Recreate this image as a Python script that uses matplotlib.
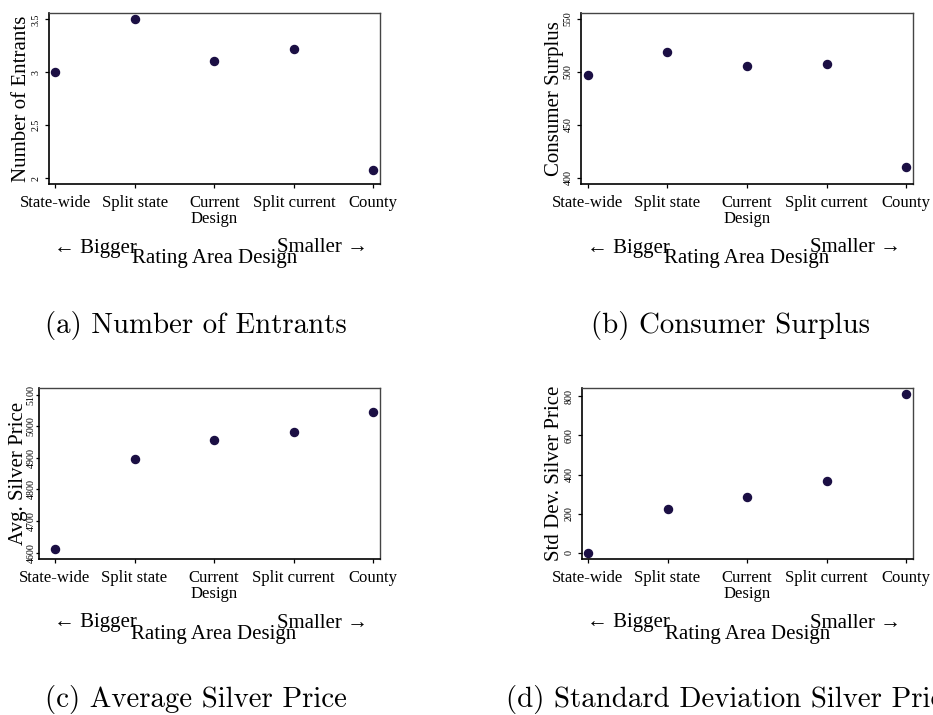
import matplotlib
matplotlib.use("Agg")
import matplotlib.pyplot as plt
from matplotlib.transforms import offset_copy

plt.rcParams["font.family"] = ["Liberation Serif", "DejaVu Serif"]

# Rating-area designs, from largest to smallest areas
designs = ["State-wide", "Split state", "Current\nDesign", "Split current", "County"]
positions = [1, 2, 3, 4, 5]

entrants = [3.00, 3.50, 3.11, 3.22, 2.08]
consumer_surplus = [497.5, 518.7, 505.4, 507.6, 410.0]
avg_silver_price = [4612, 4896, 4958, 4983, 5045]
sd_silver_price = [0, 226, 287, 366, 810]

ticks_a = [2, 2.5, 3, 3.5]
ticks_b = [400, 450, 500, 550]
ticks_c = [4600, 4700, 4800, 4900, 5000, 5100]
ticks_d = [0, 200, 400, 600, 800]

captions = ["(a) Number of Entrants", "(b) Consumer Surplus",
            "(c) Average Silver Price", "(d) Standard Deviation Silver Price"]

W, H = 933, 715
fig = plt.figure(figsize=(W / 100, H / 100), dpi=100)

MARKER = "#1b0f44"


def px_axes(left, top, right, bottom):
    return fig.add_axes([left / W, 1 - bottom / H, (right - left) / W, (bottom - top) / H])


def panel(box, values, yticks, ylim, xlim, ylabel, ylabel_x, ypad=3, ylen=3):
    ax = px_axes(*box)
    ax.plot(positions, values, "o", color=MARKER, markersize=5.8, linestyle="none")
    ax.set_xlim(*xlim)
    ax.set_ylim(*ylim)
    ax.set_xticks(positions)
    ax.set_xticklabels(designs, fontsize=12, linespacing=0.98)
    ax.set_yticks(yticks)
    ax.set_yticklabels([f"{t:g}" for t in yticks], fontsize=7.2, rotation=90,
                       va="center", ha="right")
    ax.tick_params(axis="x", direction="out", length=3, width=0.9, color="black", pad=5)
    ax.tick_params(axis="y", direction="out", length=ylen, width=0.9, color="black", pad=ypad)
    for side in ("left", "bottom"):
        ax.spines[side].set_color("black")
        ax.spines[side].set_linewidth(1.2)
    for side in ("top", "right"):
        ax.spines[side].set_color("#444444")
        ax.spines[side].set_linewidth(1.0)

    ax.set_ylabel(ylabel, fontsize=15)
    left = box[0]
    width = box[2] - box[0]
    ax.yaxis.set_label_coords((ylabel_x - left) / width, 0.5)

    xt = ax.get_xaxis_transform()
    ax.text(1.506, 0, "\u2190 Bigger", transform=offset_copy(xt, fig=fig, x=0, y=-64, units="dots"),
            ha="center", va="center", fontsize=15)
    ax.text(4.36, 0, "Smaller \u2192", transform=offset_copy(xt, fig=fig, x=0, y=-64, units="dots"),
            ha="center", va="center", fontsize=15)
    ax.text(3, 0, "Rating Area Design", transform=offset_copy(xt, fig=fig, x=0, y=-75, units="dots"),
            ha="center", va="center", fontsize=15)
    return ax


panel((49, 13, 380, 184), entrants, ticks_a, (1.946, 3.56), (0.92, 5.084),
      "Number of Entrants", 31)
panel((581, 13, 913, 184), consumer_surplus, ticks_b, (394.3, 555.7), (0.916, 5.084),
      "Consumer Surplus", 564)
panel((39, 388, 380, 559), avg_silver_price, ticks_c, (4580, 5121), (0.80, 5.084),
      "Avg. Silver Price", 27.5, ypad=0.5, ylen=2)
panel((582, 388, 913, 559), sd_silver_price, ticks_d, (-32, 843), (0.925, 5.084),
      "Std Dev. Silver Price", 564)

for text, (cx, cy) in zip(captions, [(195.5, 325), (730.5, 325), (195.5, 700), (730.5, 700)]):
    fig.text(cx / W, 1 - cy / H, text, ha="center", va="center", fontsize=20.8,
             family=["cmr10", "DejaVu Serif"])

fig.savefig("out.png", dpi=100, facecolor="white")
